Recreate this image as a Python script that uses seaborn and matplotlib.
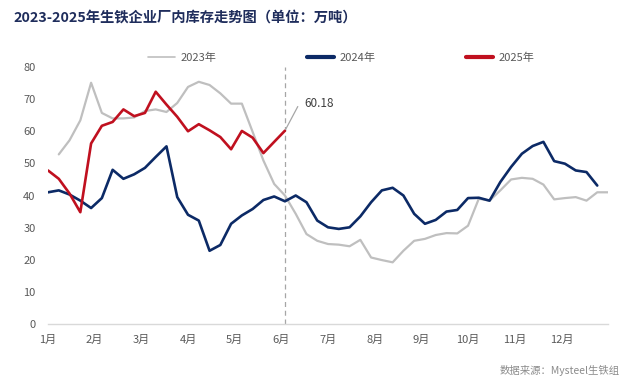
import numpy as np
import pandas as pd
import seaborn as sns
from matplotlib import pyplot as plt
from matplotlib.lines import Line2D

# weekly inventory, 10k tonnes
v2023 = [52.8, 57.2, 63.4, 75.1, 65.7, 64.0, 64.0, 64.3, 66.3, 66.8, 66.0, 68.8, 73.8,
         75.4, 74.4, 71.8, 68.6, 68.6, 59.8, 50.9, 43.6, 40.0, 34.3, 28.0, 25.9, 24.9,
         24.7, 24.2, 26.2, 20.7, 19.9, 19.2, 22.8, 25.9, 26.5, 27.7, 28.3, 28.2, 30.6,
         39.0, 38.4, 41.6, 45.0, 45.5, 45.2, 43.4, 38.8, 39.2, 39.5, 38.4, 41.0, 41.0]
v2024 = [41.0, 41.6, 40.3, 38.4, 36.1, 39.2, 48.0, 45.2, 46.6, 48.6, 52.0, 55.3, 39.5,
         34.0, 32.2, 22.8, 24.6, 31.2, 33.8, 35.8, 38.6, 39.7, 38.2, 40.0, 37.9, 32.2,
         30.1, 29.6, 30.1, 33.5, 37.9, 41.6, 42.4, 40.0, 34.3, 31.2, 32.4, 35.0, 35.5,
         39.2, 39.3, 38.4, 44.2, 48.9, 53.0, 55.4, 56.7, 50.7, 49.9, 47.8, 47.3, 43.1]
v2025 = [47.8, 45.2, 40.6, 34.8, 56.2, 61.7, 62.9, 66.8, 64.7, 65.7, 72.3, 68.3, 64.5,
         60.0, 62.2, 60.3, 58.2, 54.4, 60.1, 58.0, 53.2, 56.7, 60.18]
start_2023 = 1
months = ['1月', '2月', '3月', '4月', '5月', '6月', '7月', '8月', '9月', '10月', '11月', '12月']
years = ['2023年', '2024年', '2025年']
colors = ['#bfbfbf', '#0c2a66', '#c0101f']

df = pd.concat([
  pd.DataFrame({'week': np.arange(len(v2023)) + start_2023, 'value': v2023, 'year': years[0]}),
  pd.DataFrame({'week': np.arange(len(v2024)), 'value': v2024, 'year': years[1]}),
  pd.DataFrame({'week': np.arange(len(v2025)), 'value': v2025, 'year': years[2]}),
])

sns.set_theme(style='white')
plt.rcParams['font.family'] = ['Noto Sans CJK SC', 'DejaVu Sans']

fig = plt.figure(figsize=(6.26, 3.86), dpi=100)
ax = fig.add_axes([0.0767, 0.1606, 0.8946, 0.6658])

sns.lineplot(data=df, x='week', y='value', hue='year', palette=colors,
             hue_order=years, ax=ax, legend=False)
for line, lw in zip(ax.lines, [1.6, 1.9, 1.9]):
  line.set_linewidth(lw)

# marker for the latest week
last = len(v2025) - 1
ax.axvline(last, color='#a6a6a6', ls=(0, (4, 3)), lw=0.9, zorder=0)
ax.annotate(f'{v2025[-1]:.2f}', xy=(last, v2025[-1]), xytext=(last + 1.8, 68.5),
            fontsize=8.5, color='#404040', va='center',
            arrowprops=dict(arrowstyle='-', color='#a6a6a6', lw=0.9,
                            connectionstyle='angle,angleA=0,angleB=62,rad=0',
                            shrinkA=3, shrinkB=1))

ax.set_xlim(0, 52)
ax.set_ylim(0, 80)
ax.set_yticks(range(0, 81, 10))
ax.set_xticks(np.linspace(0, 52, 13))
ax.set_xticklabels(months + [''])
ax.set_xlabel('')
ax.set_ylabel('')
ax.tick_params(axis='x', direction='inout', length=6, width=0.8, color='#d0d0d0',
               labelsize=8, labelcolor='#595959', pad=5)
ax.tick_params(axis='y', length=0, labelsize=8, labelcolor='#595959', pad=9)
for s in ['top', 'right', 'left']:
  ax.spines[s].set_visible(False)
ax.spines['bottom'].set_color('#d9d9d9')
ax.spines['bottom'].set_linewidth(1.0)

handles = [Line2D([], [], color=colors[0], lw=1.2),
           Line2D([], [], color=colors[1], lw=3),
           Line2D([], [], color=colors[2], lw=3)]
fig.legend(handles, years, loc='center', bbox_to_anchor=(0.545, 0.85), ncol=3,
           frameon=False, fontsize=8, labelcolor='#595959', handlelength=2.4,
           columnspacing=8.2, handletextpad=0.5)

fig.text(0.022, 0.955, '2023-2025年生铁企业厂内库存走势图（单位：万吨）', fontsize=10.3,
         fontweight='bold', color='#1f2d5c', va='center', ha='left')
fig.text(0.99, 0.04, '数据来源：Mysteel生铁组', fontsize=7.5, color='#8c8c8c',
         ha='right', va='center')

fig.savefig('out.png', dpi=100)
